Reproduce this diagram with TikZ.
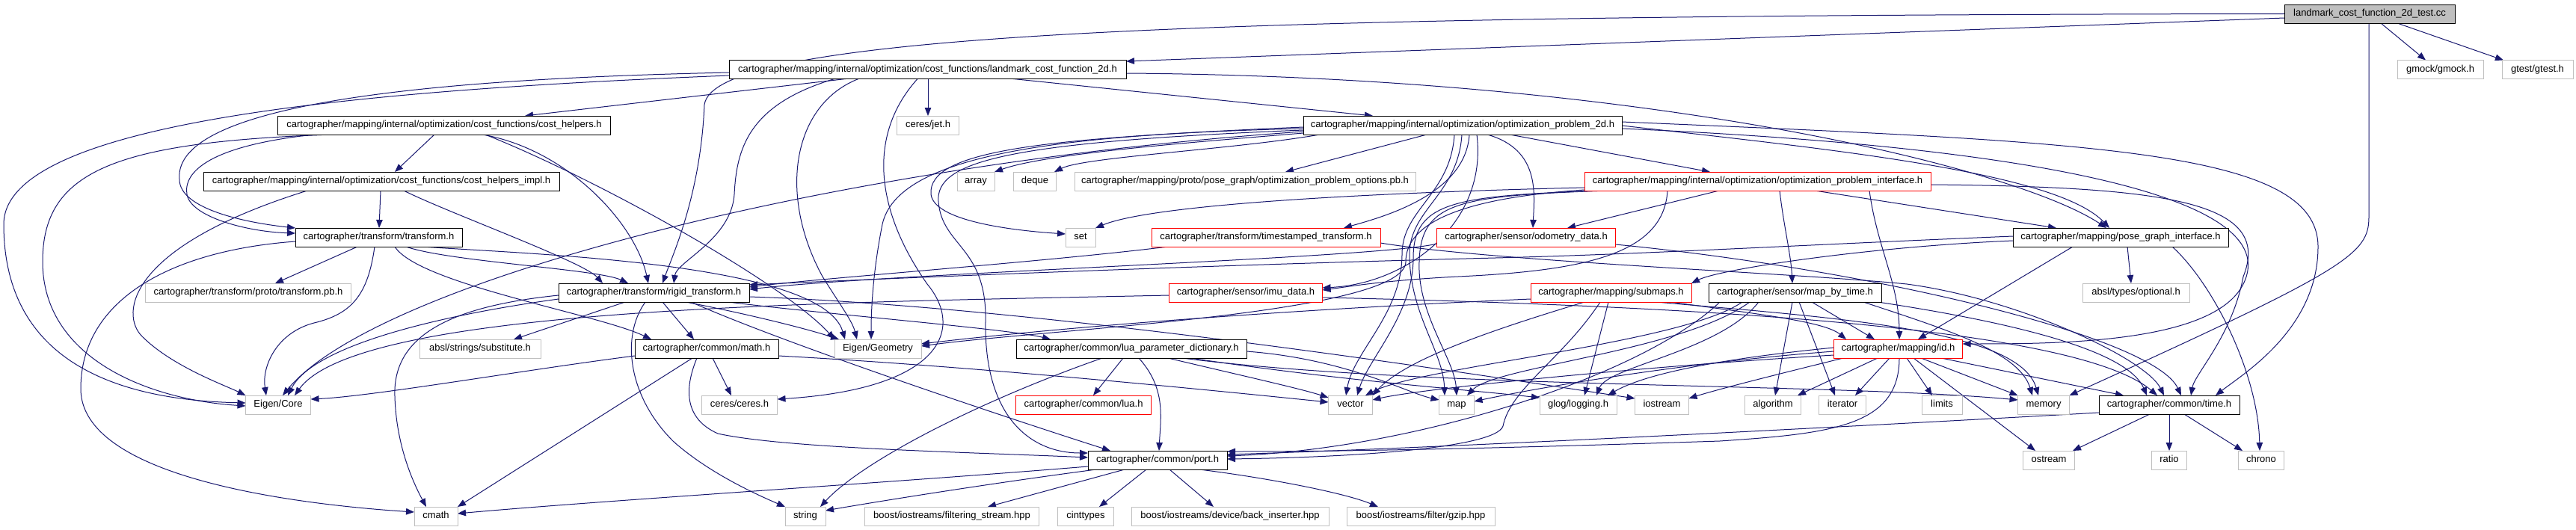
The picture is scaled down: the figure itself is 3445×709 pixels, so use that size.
\documentclass[tikz,border=0pt]{standalone}
\usepackage{fontspec}
\setmainfont{Liberation Sans}
\usetikzlibrary{arrows.meta}
\pgfdeclarelayer{bg}
\pgfsetlayers{bg,main}
\definecolor{eblue}{HTML}{191970}
\definecolor{lgrey}{HTML}{BFBFBF}
\definecolor{tred}{HTML}{FF0000}
\tikzset{
  nodebase/.style={draw=black, fill=white, line width=0.9pt, minimum height=25pt, inner sep=0pt, outer sep=0pt,
    font=\fontsize{13}{15}\selectfont, text height=9.5pt, text depth=2.7pt},
  nodedoc/.style={nodebase},
  nodeext/.style={nodebase, draw=lgrey},
  nodered/.style={nodebase, draw=tred},
  noderoot/.style={nodebase, fill=lgrey},
  conn/.style={draw=eblue, line width=1pt, -{Triangle[length=11pt,width=8.5pt]}}
}
\begin{document}
\begin{tikzpicture}[x=1pt,y=-1pt]
\useasboundingbox (0,0) rectangle (3445,709);
% ---------------- nodes ----------------
\node[noderoot, minimum width=228pt] (root) at (3169,18.5) {landmark\_cost\_function\_2d\_test.cc};
\node[nodedoc, minimum width=531pt] (lcf) at (1240.5,93) {cartographer/mapping/internal/optimization/cost\_functions/landmark\_cost\_function\_2d.h};
\node[nodeext, minimum width=115pt] (gmock) at (3263.5,93) {gmock/gmock.h};
\node[nodeext, minimum width=95pt] (gtest) at (3393.5,93) {gtest/gtest.h};
\node[nodedoc, minimum width=445pt] (ch) at (594,167.5) {cartographer/mapping/internal/optimization/cost\_functions/cost\_helpers.h};
\node[nodeext, minimum width=83pt] (jet) at (1241,167.5) {ceres/jet.h};
\node[nodedoc, minimum width=426pt] (op2d) at (1956,167.5) {cartographer/mapping/internal/optimization/optimization\_problem\_2d.h};
\node[nodedoc, minimum width=476pt] (chi) at (510,242.5) {cartographer/mapping/internal/optimization/cost\_functions/cost\_helpers\_impl.h};
\node[nodeext, minimum width=50pt] (array) at (1305,242.5) {array};
\node[nodeext, minimum width=57pt] (deque) at (1384,242.5) {deque};
\node[nodeext, minimum width=456pt] (opts) at (1665,242.5) {cartographer/mapping/proto/pose\_graph/optimization\_problem\_options.pb.h};
\node[nodered, minimum width=463pt] (opi) at (2350.5,242.5) {cartographer/mapping/internal/optimization/optimization\_problem\_interface.h};
\node[nodedoc, minimum width=223pt] (tf) at (506.5,317.5) {cartographer/transform/transform.h};
\node[nodeext, minimum width=40pt] (set) at (1445,317.5) {set};
\node[nodered, minimum width=306pt] (tst) at (1693,317.5) {cartographer/transform/timestamped\_transform.h};
\node[nodered, minimum width=239pt] (odo) at (2041,317.5) {cartographer/sensor/odometry\_data.h};
\node[nodedoc, minimum width=288pt] (pgi) at (2836,317.5) {cartographer/mapping/pose\_graph\_interface.h};
\node[nodeext, minimum width=275pt] (tfpb) at (332,391.5) {cartographer/transform/proto/transform.pb.h};
\node[nodedoc, minimum width=255pt] (rt) at (874.5,391.5) {cartographer/transform/rigid\_transform.h};
\node[nodered, minimum width=205pt] (imu) at (1666,391.5) {cartographer/sensor/imu\_data.h};
\node[nodered, minimum width=215pt] (sub) at (2154.5,391.5) {cartographer/mapping/submaps.h};
\node[nodedoc, minimum width=231pt] (mbt) at (2400.5,391.5) {cartographer/sensor/map\_by\_time.h};
\node[nodeext, minimum width=143pt] (opt) at (2856.5,391.5) {absl/types/optional.h};
\node[nodeext, minimum width=162pt] (subst) at (642,466.5) {absl/strings/substitute.h};
\node[nodedoc, minimum width=192pt] (math) at (945,466.5) {cartographer/common/math.h};
\node[nodeext, minimum width=116pt] (eg) at (1174,466.5) {Eigen/Geometry};
\node[nodedoc, minimum width=308pt] (lpd) at (1513,466.5) {cartographer/common/lua\_parameter\_dictionary.h};
\node[nodered, minimum width=172pt] (id) at (2538.5,466.5) {cartographer/mapping/id.h};
\node[nodeext, minimum width=87pt] (ec) at (372,541.5) {Eigen/Core};
\node[nodeext, minimum width=101pt] (ceres) at (989,541.5) {ceres/ceres.h};
\node[nodered, minimum width=181pt] (lua) at (1449,541.5) {cartographer/common/lua.h};
\node[nodeext, minimum width=59pt] (vector) at (1806,541.5) {vector};
\node[nodeext, minimum width=47pt] (map) at (1948,541.5) {map};
\node[nodeext, minimum width=103pt] (glog) at (2110.5,541.5) {glog/logging.h};
\node[nodeext, minimum width=72pt] (iostream) at (2222.5,541.5) {iostream};
\node[nodeext, minimum width=75pt] (algorithm) at (2371,541.5) {algorithm};
\node[nodeext, minimum width=63pt] (iterator) at (2464,541.5) {iterator};
\node[nodeext, minimum width=54pt] (limits) at (2597,541.5) {limits};
\node[nodeext, minimum width=69pt] (memory) at (2733,541.5) {memory};
\node[nodedoc, minimum width=188pt] (time) at (2901,541.5) {cartographer/common/time.h};
\node[nodedoc, minimum width=186pt] (port) at (1548,615.5) {cartographer/common/port.h};
\node[nodeext, minimum width=69pt] (ostream) at (2740,615.5) {ostream};
\node[nodeext, minimum width=47pt] (ratio) at (2901,615.5) {ratio};
\node[nodeext, minimum width=61pt] (chrono) at (3024,615.5) {chrono};
\node[nodeext, minimum width=58pt] (cmath) at (583,690.5) {cmath};
\node[nodeext, minimum width=54pt] (string) at (1077,690.5) {string};
\node[nodeext, minimum width=233pt] (fstream) at (1273,690.5) {boost/iostreams/filtering\_stream.hpp};
\node[nodeext, minimum width=75pt] (cinttypes) at (1452,690.5) {cinttypes};
\node[nodeext, minimum width=264pt] (back) at (1645,690.5) {boost/iostreams/device/back\_inserter.hpp};
\node[nodeext, minimum width=198pt] (gzip) at (1900,690.5) {boost/iostreams/filter/gzip.hpp};
% ---------------- edges ----------------
\begin{pgfonlayer}{bg}
\fill[white] (0,0) rectangle (3445,709);
% root
\draw[conn] (root.west |- 0,24) -- (lcf.east |- 0,82);
\draw[conn] (root.west) .. controls (1600,20) and (955,45) .. (942,140) .. controls (937,260) and (900,340) .. (rt.north -| 886,0);
\draw[conn] (root.south -| 3168,0) -- (3168,290) .. controls (3168,340) and (3140,360) .. (memory.north east);
\draw[conn] (root.south -| 3184,0) -- (gmock.north -| 3244,0);
\draw[conn] (root.south -| 3206,0) -- (gtest.north -| 3348,0);
% lcf
\draw[conn] (lcf.south -| 1131,0) -- (ch.north -| 702,0);
\draw[conn] (lcf.south -| 1241,0) -- (jet.north);
\draw[conn] (lcf.south -| 1355,0) -- (op2d.north -| 1836,0);
\draw[conn] (lcf.east |- 0,98) .. controls (2206,103) and (2697,225) .. (pgi.north -| 2817,0);
\draw[conn] (lcf.west |- 0,97) .. controls (600,105) and (230,135) .. (240,240) .. controls (240,280) and (330,298) .. (tf.north west);
\draw[conn] (lcf.west |- 0,101) .. controls (500,120) and (5,160) .. (5,300) .. controls (5,480) and (150,535) .. (ec.west |- 0,539);
\draw[conn] (lcf.south -| 1116,0) .. controls (1000,140) and (985,200) .. (982,260) .. controls (978,320) and (905,350) .. (rt.north -| 901,0);
\draw[conn] (lcf.south -| 1148,0) .. controls (1060,140) and (1040,260) .. (1100,370) .. controls (1125,410) and (1140,430) .. (eg.north -| 1146,0);
\draw[conn] (lcf.south -| 1227,0) .. controls (1160,180) and (1170,280) .. (1240,380) .. controls (1290,440) and (1260,520) .. (ceres.east |- 0,534);
% cost_helpers
\draw[conn] (ch.south -| 581,0) -- (chi.north -| 528,0);
\draw[conn] (ch.south -| 444,0) .. controls (150,190) and (57,230) .. (57,350) .. controls (57,480) and (200,535) .. (ec.west |- 0,543);
\draw[conn] (ch.south -| 420,0) .. controls (280,195) and (245,230) .. (250,260) .. controls (255,290) and (330,310) .. (tf.west |- 0,312);
\draw[conn] (ch.south -| 645,0) .. controls (760,200) and (850,300) .. (rt.north -| 867,0);
\draw[conn] (ch.south -| 649,0) .. controls (800,240) and (1050,380) .. (eg.north west);
% cost_helpers_impl
\draw[conn] (chi.south -| 411,0) .. controls (170,330) and (160,420) .. (190,450) .. controls (230,490) and (300,515) .. (ec.north west);
\draw[conn] (chi.south -| 509,0) -- (tf.north -| 507,0);
\draw[conn] (chi.south -| 540,0) .. controls (600,285) and (780,350) .. (rt.north -| 806,0);
% transform
\draw[conn] (tf.south -| 478,0) -- (tfpb.north -| 368,0);
\draw[conn] (tf.south -| 501,0) .. controls (492,395) and (470,420) .. (420,432) .. controls (370,445) and (350,490) .. (ec.north -| 356,0);
\draw[conn] (tf.west |- 0,323) .. controls (230,335) and (108,400) .. (108,520) .. controls (108,640) and (400,675) .. (cmath.west |- 0,685);
\draw[conn] (tf.south -| 528,0) .. controls (560,380) and (800,420) .. (math.north -| 871,0);
\draw[conn] (tf.south -| 543,0) .. controls (600,350) and (800,360) .. (rt.north -| 840,0);
\draw[conn] (tf.south -| 566,0) .. controls (700,340) and (1100,350) .. (eg.north -| 1130,0);
% rigid_transform
\draw[conn] (rt.south -| 836,0) -- (subst.north -| 687,0);
\draw[conn] (rt.south -| 886,0) -- (math.north -| 928,0);
\draw[conn] (rt.south -| 863,0) .. controls (830,450) and (840,530) .. (900,590) .. controls (950,635) and (1020,665) .. (string.north west);
\draw[conn] (rt.south -| 917,0) .. controls (1000,420) and (1080,440) .. (eg.north -| 1122,0);
\draw[conn] (rt.south -| 974,0) .. controls (1100,420) and (1350,440) .. (lpd.north -| 1405,0);
\draw[conn] (rt.south -| 924,0) .. controls (1050,460) and (1350,560) .. (port.north -| 1485,0);
\draw[conn] (rt.west |- 0,400) .. controls (600,420) and (420,460) .. (ec.north -| 385,0);
\draw[conn] (rt.west |- 0,395) .. controls (600,410) and (525,450) .. (528,530) .. controls (530,600) and (555,650) .. (cmath.north -| 570,0);
\draw[conn] (rt.east |- 0,397) .. controls (1400,410) and (2000,505) .. (iostream.west |- 0,533);
% optimization_problem_2d
\draw[conn] (op2d.west |- 0,178) .. controls (1600,190) and (1400,205) .. (array.north east);
\draw[conn] (op2d.south -| 1765,0) .. controls (1650,200) and (1450,210) .. (deque.north -| 1410,0);
\draw[conn] (op2d.south -| 1908,0) -- (opts.north -| 1719,0);
\draw[conn] (op2d.west |- 0,170) .. controls (1400,185) and (1240,200) .. (1245,260) .. controls (1250,300) and (1380,310) .. (set.west |- 0,313);
\draw[conn] (op2d.west |- 0,174) .. controls (1350,190) and (1250,215) .. (1255,270) .. controls (1260,330) and (1320,330) .. (1318,430) .. controls (1316,560) and (1380,606) .. (port.west |- 0,606);
\draw[conn] (op2d.west |- 0,176) .. controls (1100,220) and (500,380) .. (ec.north -| 378,0);
\draw[conn] (op2d.west |- 0,172) .. controls (1400,180) and (1200,210) .. (1180,300) .. controls (1170,350) and (1165,400) .. (eg.north -| 1165,0);
\draw[conn] (op2d.south -| 1945,0) .. controls (1940,260) and (1875,280) .. (1875,340) .. controls (1875,420) and (1810,470) .. (vector.north -| 1800,0);
\draw[conn] (op2d.south -| 1955,0) .. controls (1950,260) and (1885,280) .. (1885,340) .. controls (1885,420) and (1930,470) .. (map.north -| 1932,0);
\draw[conn] (op2d.south -| 1965,0) .. controls (1960,260) and (1850,290) .. (tst.north -| 1797,0);
\draw[conn] (op2d.south -| 1975,0) .. controls (1990,300) and (1880,380) .. (imu.east |- 0,385);
\draw[conn] (op2d.south -| 1989,0) .. controls (2060,200) and (2052,260) .. (odo.north -| 2050,0);
\draw[conn] (op2d.south -| 2019,0) -- (opi.north -| 2287,0);
\draw[conn] (op2d.east |- 0,168) .. controls (2450,200) and (2750,230) .. (pgi.north -| 2821,0);
\draw[conn] (op2d.east |- 0,163) .. controls (2800,190) and (3100,200) .. (3100,330) .. controls (3100,440) and (3000,500) .. (time.north -| 2963,0);
\draw[conn] (op2d.east |- 0,172) .. controls (2700,195) and (3060,260) .. (3000,380) .. controls (2960,460) and (2750,460) .. (id.east |- 0,460);
% optimization_problem_interface
\draw[conn] (opi.south -| 2299,0) -- (odo.north -| 2096,0);
\draw[conn] (opi.west |- 0,251) .. controls (1900,256) and (1550,270) .. (set.north east);
\draw[conn] (opi.south -| 2427,0) -- (pgi.north -| 2750,0);
\draw[conn] (opi.south -| 2380,0) .. controls (2385,300) and (2395,340) .. (mbt.north -| 2397,0);
\draw[conn] (opi.south -| 2500,0) .. controls (2510,330) and (2540,380) .. (id.north -| 2540,0);
\draw[conn] (opi.east |- 0,247) .. controls (2900,250) and (3040,270) .. (3000,370) .. controls (2985,450) and (2935,500) .. (time.north -| 2930,0);
\draw[conn] (opi.south -| 2230,0) .. controls (2225,340) and (2120,362) .. (1950,370) .. controls (1850,375) and (1800,384) .. (imu.east |- 0,388);
\draw[conn] (opi.south -| 2140,0) .. controls (1945,262) and (1890,270) .. (1890,345) .. controls (1890,420) and (1830,480) .. (vector.north -| 1815,0);
\draw[conn] (opi.south -| 2150,0) .. controls (1950,262) and (1900,270) .. (1898,350) .. controls (1895,420) and (1945,480) .. (map.north -| 1948,0);
\draw[conn] (opi.west |- 0,254) .. controls (1950,265) and (1880,300) .. (1880,350) .. controls (1880,420) and (1400,440) .. (eg.east |- 0,463);
% timestamped_transform
\draw[conn] (tst.south -| 1562,0) .. controls (1400,350) and (1100,372) .. (rt.east |- 0,384);
\draw[conn] (tst.east |- 0,325) .. controls (2000,350) and (2400,365) .. (2550,380) .. controls (2700,400) and (2870,480) .. (time.north -| 2894,0);
% odometry_data
\draw[conn] (odo.west |- 0,326) .. controls (1850,345) and (1200,365) .. (rt.east |- 0,387);
\draw[conn] (odo.east |- 0,327) .. controls (2500,360) and (2880,450) .. (time.north -| 2917,0);
% pose_graph_interface
\draw[conn] (pgi.south -| 2845,0) -- (opt.north -| 2850,0);
\draw[conn] (pgi.south -| 2905,0) .. controls (2960,380) and (3020,500) .. (chrono.north -| 3022,0);
\draw[conn] (pgi.south -| 2772,0) -- (id.north -| 2565,0);
\draw[conn] (pgi.west |- 0,322) .. controls (2500,330) and (2300,360) .. (sub.north east);
\draw[conn] (pgi.west |- 0,316) .. controls (2400,328) and (2200,340) .. (2000,345) .. controls (1600,355) and (1200,372) .. (rt.east |- 0,381);
% imu_data
\draw[conn] (imu.west |- 0,395) .. controls (1100,405) and (480,410) .. (ec.north -| 394,0);
\draw[conn] (imu.east |- 0,398) .. controls (2300,410) and (2780,440) .. (time.north -| 2885,0);
% submaps
\draw[conn] (sub.south -| 2119,0) .. controls (2000,440) and (1880,480) .. (vector.north east);
\draw[conn] (sub.south -| 2151,0) -- (glog.north -| 2119,0);
\draw[conn] (sub.south -| 2140,0) .. controls (2090,480) and (2020,520) .. (2010,570) .. controls (2000,600) and (1800,612) .. (port.east |- 0,614);
\draw[conn] (sub.west |- 0,400) .. controls (1700,415) and (1400,440) .. (eg.east |- 0,460);
\draw[conn] (sub.south -| 2215,0) .. controls (2450,425) and (2700,440) .. (memory.north -| 2726,0);
\draw[conn] (sub.south -| 2234,0) .. controls (2350,420) and (2440,430) .. (id.north -| 2469,0);
% map_by_time
\draw[conn] (mbt.south -| 2397,0) -- (algorithm.north -| 2374,0);
\draw[conn] (mbt.south -| 2406,0) -- (iterator.north -| 2454,0);
\draw[conn] (mbt.south -| 2423,0) -- (id.north -| 2507,0);
\draw[conn] (mbt.south -| 2492,0) .. controls (2600,440) and (2700,470) .. (memory.north -| 2718,0);
\draw[conn] (mbt.south -| 2511,0) .. controls (2750,440) and (2850,480) .. (time.north -| 2871,0);
\draw[conn] (mbt.south -| 2330,0) .. controls (2250,460) and (1900,490) .. (vector.north -| 1826,0);
\draw[conn] (mbt.south -| 2340,0) .. controls (2250,470) and (2000,490) .. (map.north -| 1962,0);
\draw[conn] (mbt.south -| 2352,0) .. controls (2300,470) and (2150,490) .. (glog.north -| 2135,0);
\draw[conn] (mbt.south -| 2300,0) .. controls (2200,500) and (1900,600) .. (port.east |- 0,610);
% id
\draw[conn] (id.south -| 2511,0) -- (algorithm.north -| 2404,0);
\draw[conn] (id.south -| 2527,0) -- (iterator.north -| 2481,0);
\draw[conn] (id.south -| 2550,0) -- (limits.north -| 2584,0);
\draw[conn] (id.south -| 2569,0) -- (memory.north west);
\draw[conn] (id.south -| 2559,0) -- (ostream.north -| 2722,0);
\draw[conn] (id.south -| 2596,0) -- (time.north -| 2840,0);
\draw[conn] (id.south -| 2540,0) .. controls (2540,570) and (2450,580) .. (2300,590) .. controls (2000,600) and (1800,604) .. (port.east |- 0,604);
\draw[conn] (id.west |- 0,475) .. controls (2200,490) and (1900,520) .. (vector.east |- 0,535);
\draw[conn] (id.west |- 0,470) .. controls (2250,485) and (2050,520) .. (map.east |- 0,537);
\draw[conn] (id.south -| 2465,0) .. controls (2380,500) and (2300,520) .. (iostream.east |- 0,533);
\draw[conn] (id.west |- 0,465) .. controls (2300,480) and (2200,500) .. (glog.north -| 2150,0);
% math
\draw[conn] (math.south -| 926,0) -- (cmath.north east);
\draw[conn] (math.south -| 953,0) -- (ceres.north -| 978,0);
\draw[conn] (math.south -| 932,0) .. controls (915,520) and (915,560) .. (960,580) .. controls (1050,600) and (1300,605) .. (port.west |- 0,612);
\draw[conn] (math.west |- 0,476) .. controls (700,495) and (500,530) .. (ec.east |- 0,534);
\draw[conn] (math.east |- 0,476) .. controls (1300,490) and (1600,520) .. (vector.west |- 0,538);
% lua_parameter_dictionary
\draw[conn] (lpd.south -| 1502,0) -- (lua.north -| 1462,0);
\draw[conn] (lpd.south -| 1523,0) .. controls (1560,520) and (1552,560) .. (port.north -| 1550,0);
\draw[conn] (lpd.south -| 1474,0) .. controls (1300,540) and (1150,620) .. (string.north -| 1097,0);
\draw[conn] (lpd.east |- 0,470) .. controls (1800,480) and (1880,525) .. (map.west |- 0,535);
\draw[conn] (lpd.south -| 1562,0) .. controls (1650,500) and (1740,520) .. (vector.west |- 0,532);
\draw[conn] (lpd.south -| 1581,0) .. controls (1900,520) and (2450,512) .. (memory.west |- 0,535);
\draw[conn] (lpd.south -| 1592,0) .. controls (1800,510) and (1950,520) .. (glog.west |- 0,532);
% time
\draw[conn] (time.west |- 0,552) .. controls (2400,575) and (1900,600) .. (port.east |- 0,608);
\draw[conn] (time.south) -- (ratio.north);
\draw[conn] (time.south -| 2921,0) -- (chrono.north -| 2999,0);
\draw[conn] (time.south -| 2875,0) -- (ostream.north -| 2772,0);
% port
\draw[conn] (port.west |- 0,624) .. controls (1200,645) and (800,670) .. (cmath.east |- 0,687);
\draw[conn] (port.south -| 1466,0) .. controls (1300,650) and (1150,675) .. (string.east |- 0,683);
\draw[conn] (port.south -| 1504,0) -- (fstream.north -| 1321,0);
\draw[conn] (port.south -| 1533,0) -- (cinttypes.north -| 1470,0);
\draw[conn] (port.south -| 1564,0) -- (back.north -| 1623,0);
\draw[conn] (port.south -| 1604,0) .. controls (1700,640) and (1800,660) .. (gzip.north -| 1843,0);
\end{pgfonlayer}
\end{tikzpicture}
\end{document}
